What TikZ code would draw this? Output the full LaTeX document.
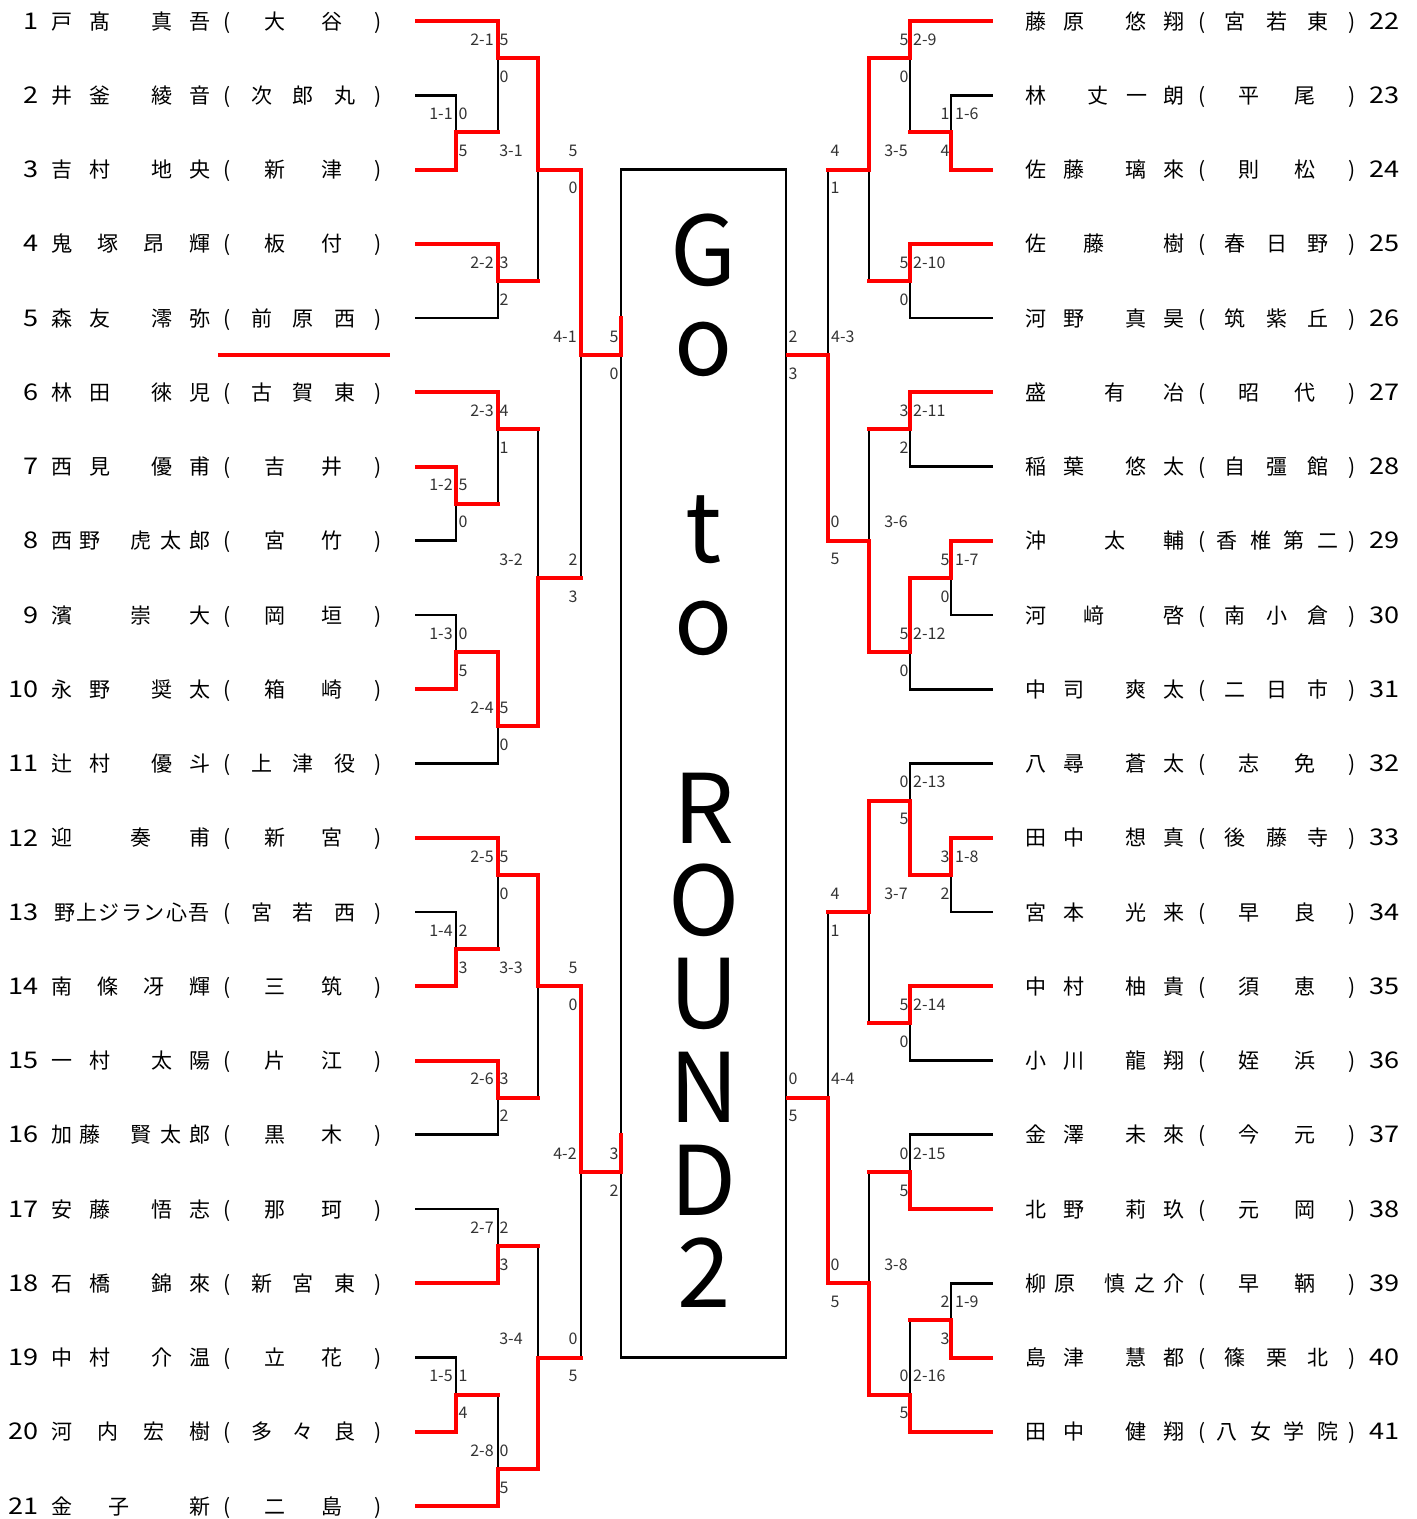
\documentclass[tikz,border=0pt]{standalone}
\usepackage{graphicx}
\usepackage{fontspec}
\setmainfont{Noto Sans CJK JP}
\newcommand\myLP{(}
\newcommand\myRP{)}
\tikzset{
 bk/.style={draw=black, line width=2.6pt, line cap=rect, line join=miter},
 rd/.style={draw=red, line width=4pt, line cap=rect, line join=miter},
 nm/.style={font=\fontsize{21}{21}\selectfont, inner sep=0pt, text height=18.5pt, text depth=2.5pt},
 numL/.style={font=\fontsize{23}{23}\selectfont, inner sep=0pt, anchor=east},
 numR/.style={font=\fontsize{23}{23}\selectfont, inner sep=0pt, anchor=west},
 sc/.style={font=\fontsize{16}{16}\selectfont, text=black!80, inner sep=0pt},
 big/.style={font=\fontsize{96}{96}\selectfont, inner sep=0pt, anchor=base},
}
\newcommand\chs[4]{\foreach \cx/\ch [count=\k] in {#4}{\node[nm] (#2-#1-\k) at ({\cx+#3},{21+(#1-1)*74.25}) {\ch};}}
\newcommand\Lrow[3]{\node[numL] (nL#1) at (39,{21+(#1-1)*74.25}) {\scalebox{1.18}[1]{#2}}; \chs{#1}{L}{0}{#3}}
\newcommand\Rrow[3]{\node[numR] (nR#1) at (1369,{21+(#1-1)*74.25}) {\scalebox{1.18}[1]{#2}}; \chs{#1}{R}{974}{#3}}
\newcommand\mlab[7]{%
 \node[sc,anchor=#2] (m#5) at (#1,{#4-18.5}) {#5};
 \node[sc] (t#5) at (#3,{#4-18.5}) {#6};
 \node[sc] (b#5) at (#3,{#4+18.5}) {#7};}
\begin{document}
\begin{tikzpicture}[x=1pt,y=-1pt]
\useasboundingbox (0,0) rectangle (1417,1519);
\fill[white] (0,0) rectangle (1417,1519);

% ---- names left ----
\Lrow{1}{1}{62/戸,100/髙,162/真,200/吾,227/\myLP,275/大,332/谷,378/\myRP}
\Lrow{2}{2}{62/井,100/釜,162/綾,200/音,227/\myLP,262/次,303/郎,345/丸,378/\myRP}
\Lrow{3}{3}{62/吉,100/村,162/地,200/央,227/\myLP,275/新,332/津,378/\myRP}
\Lrow{4}{4}{62/鬼,108/塚,154/昂,200/輝,227/\myLP,275/板,332/付,378/\myRP}
\Lrow{5}{5}{62/森,100/友,162/澪,200/弥,227/\myLP,262/前,303/原,345/西,378/\myRP}
\Lrow{6}{6}{62/林,100/田,162/徠,200/児,227/\myLP,262/古,303/賀,345/東,378/\myRP}
\Lrow{7}{7}{62/西,100/見,162/優,200/甫,227/\myLP,275/吉,332/井,378/\myRP}
\Lrow{8}{8}{62/西,90/野,141/虎,171/太,200/郎,227/\myLP,275/宮,332/竹,378/\myRP}
\Lrow{9}{9}{62/濱,141/崇,200/大,227/\myLP,275/岡,332/垣,378/\myRP}
\Lrow{10}{10}{62/永,100/野,162/奨,200/太,227/\myLP,275/箱,332/崎,378/\myRP}
\Lrow{11}{11}{62/辻,100/村,162/優,200/斗,227/\myLP,262/上,303/津,345/役,378/\myRP}
\Lrow{12}{12}{62/迎,141/奏,200/甫,227/\myLP,275/新,332/宮,378/\myRP}
\Lrow{13}{13}{64.5/野,86.9/上,109.3/ジ,131.7/ラ,154.1/ン,176.5/心,198.9/吾,227/\myLP,262/宮,303/若,345/西,378/\myRP}
\Lrow{14}{14}{62/南,108/條,154/冴,200/輝,227/\myLP,275/三,332/筑,378/\myRP}
\Lrow{15}{15}{62/一,100/村,162/太,200/陽,227/\myLP,275/片,332/江,378/\myRP}
\Lrow{16}{16}{62/加,90/藤,141/賢,171/太,200/郎,227/\myLP,275/黒,332/木,378/\myRP}
\Lrow{17}{17}{62/安,100/藤,162/悟,200/志,227/\myLP,275/那,332/珂,378/\myRP}
\Lrow{18}{18}{62/石,100/橋,162/錦,200/來,227/\myLP,262/新,303/宮,345/東,378/\myRP}
\Lrow{19}{19}{62/中,100/村,162/介,200/温,227/\myLP,275/立,332/花,378/\myRP}
\Lrow{20}{20}{62/河,108/内,154/宏,200/樹,227/\myLP,262/多,303/々,345/良,378/\myRP}
\Lrow{21}{21}{62/金,119/子,200/新,227/\myLP,275/二,332/島,378/\myRP}

% ---- names right ----
\Rrow{1}{22}{62/藤,100/原,162/悠,200/翔,228/\myLP,261/宮,303/若,344/東,378/\myRP}
\Rrow{2}{23}{62/林,124/丈,163/一,200/朗,228/\myLP,275/平,331/尾,378/\myRP}
\Rrow{3}{24}{62/佐,100/藤,162/璃,200/來,228/\myLP,275/則,331/松,378/\myRP}
\Rrow{4}{25}{62/佐,120/藤,200/樹,228/\myLP,261/春,303/日,344/野,378/\myRP}
\Rrow{5}{26}{62/河,100/野,162/真,200/昊,228/\myLP,261/筑,303/紫,344/丘,378/\myRP}
\Rrow{6}{27}{62/盛,141/有,200/冶,228/\myLP,275/昭,331/代,378/\myRP}
\Rrow{7}{28}{62/稲,100/葉,162/悠,200/太,228/\myLP,261/自,303/彊,344/館,378/\myRP}
\Rrow{8}{29}{62/沖,141/太,200/輔,228/\myLP,253/香,287/椎,320/第,354/二,378/\myRP}
\Rrow{9}{30}{62/河,120/﨑,200/啓,228/\myLP,261/南,303/小,344/倉,378/\myRP}
\Rrow{10}{31}{62/中,100/司,162/爽,200/太,228/\myLP,261/二,303/日,344/市,378/\myRP}
\Rrow{11}{32}{62/八,100/尋,162/蒼,200/太,228/\myLP,275/志,331/免,378/\myRP}
\Rrow{12}{33}{62/田,100/中,162/想,200/真,228/\myLP,261/後,303/藤,344/寺,378/\myRP}
\Rrow{13}{34}{62/宮,100/本,162/光,200/来,228/\myLP,275/早,331/良,378/\myRP}
\Rrow{14}{35}{62/中,100/村,162/柚,200/貴,228/\myLP,275/須,331/恵,378/\myRP}
\Rrow{15}{36}{62/小,100/川,162/龍,200/翔,228/\myLP,275/姪,331/浜,378/\myRP}
\Rrow{16}{37}{62/金,100/澤,162/未,200/來,228/\myLP,275/今,331/元,378/\myRP}
\Rrow{17}{38}{62/北,100/野,162/莉,200/玖,228/\myLP,275/元,331/岡,378/\myRP}
\Rrow{18}{39}{62/柳,91/原,141/慎,171/之,200/介,228/\myLP,275/早,331/鞆,378/\myRP}
\Rrow{19}{40}{62/島,100/津,162/慧,200/都,228/\myLP,261/篠,303/栗,344/北,378/\myRP}
\Rrow{20}{41}{62/田,100/中,162/健,200/翔,228/\myLP,253/八,287/女,320/学,354/院,378/\myRP}

% ---- box ----
\node[draw=black, line width=2.6pt, minimum width=165pt, minimum height=1188pt, inner sep=0pt, outer sep=0pt, anchor=north west] (box) at (621,169.5) {};
\node[big] (g1) at (704,285) {G};
\node[big] (g2) at (704,375) {o};
\node[big] (g3) at (704,562) {t};
\node[big] (g4) at (704,654) {o};
\node[big] (g5) at (704,843) {R};
\node[big] (g6) at (704,935) {O};
\node[big] (g7) at (704,1028) {U};
\node[big] (g8) at (704,1122) {N};
\node[big] (g9) at (704,1215) {D};
\node[big] (g10) at (704,1307) {2};

% ---- black lines left ----
\draw[bk] (416,95.25)--(456,95.25)--(456,132.4);
\draw[bk] (498,58.1)--(498,132.4);
\draw[bk] (416,318)--(498,318)--(498,280.9);
\draw[bk] (538,169.5)--(538,280.9);
\draw[bk] (581,355.1)--(581,577.9);
\draw[bk] (498,429.4)--(498,503.6);
\draw[bk] (416,540.75)--(456,540.75)--(456,503.6);
\draw[bk] (538,429.4)--(538,577.9);
\draw[bk] (416,615)--(456,615)--(456,652.1);
\draw[bk] (416,763.5)--(498,763.5)--(498,726.4);
\draw[bk] (498,874.9)--(498,949.1);
\draw[bk] (416,912)--(456,912)--(456,949.1);
\draw[bk] (538,986.25)--(538,1097.6);
\draw[bk] (416,1134.75)--(498,1134.75)--(498,1097.6);
\draw[bk] (581,1171.9)--(581,1357.5);
\draw[bk] (416,1209)--(498,1209)--(498,1246.1);
\draw[bk] (538,1246.1)--(538,1357.5);
\draw[bk] (416,1357.5)--(456,1357.5)--(456,1394.6);
\draw[bk] (498,1394.6)--(498,1468.9);

% ---- black lines right ----
\draw[bk] (992,95.25)--(951,95.25)--(951,132.4);
\draw[bk] (910,58.1)--(910,132.4);
\draw[bk] (869,169.5)--(869,280.9);
\draw[bk] (992,318)--(910,318)--(910,280.9);
\draw[bk] (828,169.5)--(828,355.1);
\draw[bk] (992,466.5)--(910,466.5)--(910,429.4);
\draw[bk] (869,429.4)--(869,540.75);
\draw[bk] (992,615)--(951,615)--(951,577.9);
\draw[bk] (992,689.25)--(910,689.25)--(910,652.1);
\draw[bk] (992,763.5)--(910,763.5)--(910,800.6);
\draw[bk] (992,912)--(951,912)--(951,874.9);
\draw[bk] (869,912)--(869,1023.4);
\draw[bk] (992,1060.5)--(910,1060.5)--(910,1023.4);
\draw[bk] (828,912)--(828,1097.6);
\draw[bk] (992,1134.75)--(910,1134.75)--(910,1171.9);
\draw[bk] (869,1171.9)--(869,1283.25);
\draw[bk] (992,1283.25)--(951,1283.25)--(951,1320.4);
\draw[bk] (910,1320.4)--(910,1394.6);

% ---- red lines left ----
\draw[rd] (417,21)--(498,21)--(498,58.1)--(538,58.1)--(538,169.5)--(581,169.5)--(581,355.1)--(621,355.1)--(621,318);
\draw[rd] (417,169.5)--(456,169.5)--(456,132.4)--(498,132.4);
\draw[rd] (417,243.75)--(498,243.75)--(498,280.9)--(538,280.9);
\draw[rd] (417,392.25)--(498,392.25)--(498,429.4)--(538,429.4);
\draw[rd] (417,466.5)--(456,466.5)--(456,503.6)--(498,503.6);
\draw[rd] (417,689.25)--(456,689.25)--(456,652.1)--(498,652.1)--(498,726.4)--(538,726.4)--(538,577.9)--(581,577.9);
\draw[rd] (417,837.75)--(498,837.75)--(498,874.9)--(538,874.9)--(538,986.25)--(581,986.25)--(581,1171.9)--(621,1171.9)--(621,1134.75);
\draw[rd] (417,986.25)--(456,986.25)--(456,949.1)--(498,949.1);
\draw[rd] (417,1060.5)--(498,1060.5)--(498,1097.6)--(538,1097.6);
\draw[rd] (417,1283.25)--(498,1283.25)--(498,1246.1)--(538,1246.1);
\draw[rd] (417,1431.75)--(456,1431.75)--(456,1394.6)--(498,1394.6);
\draw[rd] (417,1506)--(498,1506)--(498,1468.9)--(538,1468.9)--(538,1357.5)--(581,1357.5);
\draw[rd] (220,355.1)--(388,355.1);

% ---- red lines right ----
\draw[rd] (991,21)--(910,21)--(910,58.1)--(869,58.1)--(869,169.5)--(828,169.5);
\draw[rd] (991,169.5)--(951,169.5)--(951,132.4)--(910,132.4);
\draw[rd] (991,243.75)--(910,243.75)--(910,280.9)--(869,280.9);
\draw[rd] (991,392.25)--(910,392.25)--(910,429.4)--(869,429.4);
\draw[rd] (991,540.75)--(951,540.75)--(951,577.9)--(910,577.9)--(910,652.1)--(869,652.1)--(869,540.75)--(828,540.75)--(828,355.1)--(788,355.1);
\draw[rd] (991,837.75)--(951,837.75)--(951,874.9)--(910,874.9)--(910,800.6)--(869,800.6)--(869,912)--(828,912);
\draw[rd] (991,986.25)--(910,986.25)--(910,1023.4)--(869,1023.4);
\draw[rd] (991,1209)--(910,1209)--(910,1171.9)--(869,1171.9);
\draw[rd] (991,1357.5)--(951,1357.5)--(951,1320.4)--(910,1320.4);
\draw[rd] (991,1431.75)--(910,1431.75)--(910,1394.6)--(869,1394.6)--(869,1283.25)--(828,1283.25)--(828,1097.6)--(788,1097.6);

% ---- match labels left ----
\mlab{441}{center}{463}{132.4}{1-1}{0}{5}
\mlab{482}{center}{504}{58.1}{2-1}{5}{0}
\mlab{482}{center}{504}{280.9}{2-2}{3}{2}
\mlab{511}{center}{573}{169.5}{3-1}{5}{0}
\mlab{565}{center}{614}{355.1}{4-1}{5}{0}
\mlab{482}{center}{504}{429.4}{2-3}{4}{1}
\mlab{441}{center}{463}{503.6}{1-2}{5}{0}
\mlab{511}{center}{573}{577.9}{3-2}{2}{3}
\mlab{441}{center}{463}{652.1}{1-3}{0}{5}
\mlab{482}{center}{504}{726.4}{2-4}{5}{0}
\mlab{482}{center}{504}{874.9}{2-5}{5}{0}
\mlab{441}{center}{463}{949.1}{1-4}{2}{3}
\mlab{511}{center}{573}{986.25}{3-3}{5}{0}
\mlab{482}{center}{504}{1097.6}{2-6}{3}{2}
\mlab{565}{center}{614}{1171.9}{4-2}{3}{2}
\mlab{482}{center}{504}{1246.1}{2-7}{2}{3}
\mlab{511}{center}{573}{1357.5}{3-4}{0}{5}
\mlab{441}{center}{463}{1394.6}{1-5}{1}{4}
\mlab{482}{center}{504}{1468.9}{2-8}{0}{5}

% ---- match labels right ----
\mlab{955}{west}{945}{132.4}{1-6}{1}{4}
\mlab{913}{west}{904}{58.1}{2-9}{5}{0}
\mlab{896}{center}{835}{169.5}{3-5}{4}{1}
\mlab{913}{west}{904}{280.9}{2-10}{5}{0}
\mlab{831}{west}{793}{355.1}{4-3}{2}{3}
\mlab{913}{west}{904}{429.4}{2-11}{3}{2}
\mlab{896}{center}{835}{540.75}{3-6}{0}{5}
\mlab{955}{west}{945}{577.9}{1-7}{5}{0}
\mlab{913}{west}{904}{652.1}{2-12}{5}{0}
\mlab{913}{west}{904}{800.6}{2-13}{0}{5}
\mlab{955}{west}{945}{874.9}{1-8}{3}{2}
\mlab{896}{center}{835}{912}{3-7}{4}{1}
\mlab{913}{west}{904}{1023.4}{2-14}{5}{0}
\mlab{831}{west}{793}{1097.6}{4-4}{0}{5}
\mlab{913}{west}{904}{1171.9}{2-15}{0}{5}
\mlab{896}{center}{835}{1283.25}{3-8}{0}{5}
\mlab{955}{west}{945}{1320.4}{1-9}{2}{3}
\mlab{913}{west}{904}{1394.6}{2-16}{0}{5}
\end{tikzpicture}
\end{document}
